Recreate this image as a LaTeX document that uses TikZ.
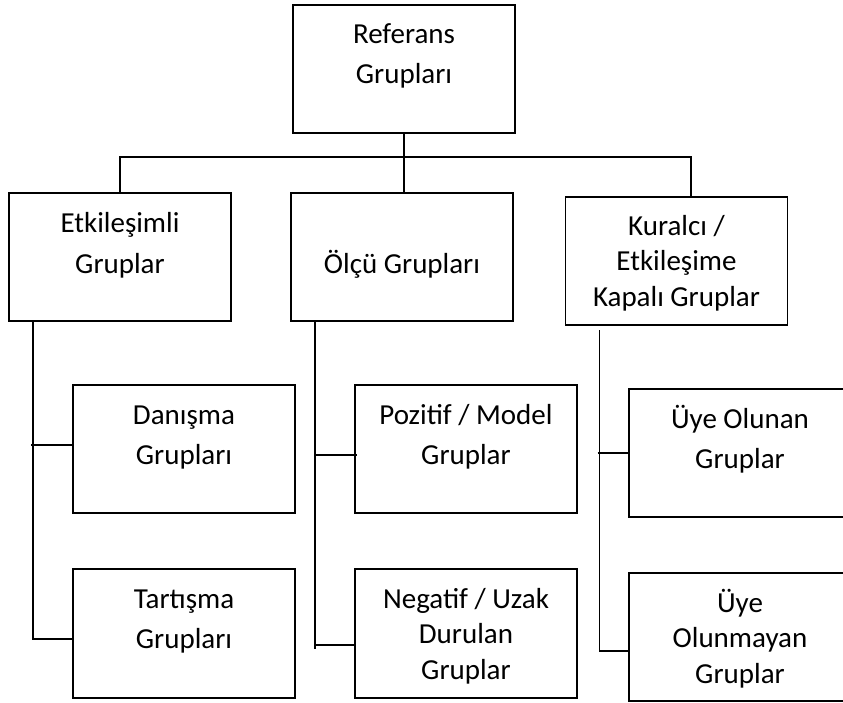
\documentclass[tikz,border=0pt]{standalone}
\usepackage{fontspec}
\setmainfont{Carlito}
\usetikzlibrary{calc}
\newcommand\mlines[2]{{\fontsize{29}{#1}\selectfont\begin{tabular}[t]{@{}c@{}}#2\end{tabular}}}
\begin{document}
\begin{tikzpicture}[x=1pt,y=-1pt,
  box/.style={draw, line width=1.8pt, minimum width=222pt, minimum height=128pt, inner sep=0pt, outer sep=0pt},
  conn/.style={line width=1.6pt},
  lbl/.style={anchor=base, inner sep=0pt, outer sep=0pt}]
\clip (0,0) rectangle (843,702);
\fill[white] (0,0) rectangle (843,702);
% boxes
\node[box] (top) at (404,69) {};
\node[box] (L1) at (120,257) {};
\node[box] (M1) at (402,257) {};
\node[box] (R1) at (676.5,261) {};
\node[box, minimum height=128pt] (Dan) at (184,449) {};
\node[box, minimum height=129pt] (Tar) at (184,633.5) {};
\node[box, minimum height=128pt] (Poz) at (466,449) {};
\node[box, minimum height=129pt] (Neg) at (466,633.5) {};
\node[box, minimum height=128pt] (UO) at (740,453) {};
\node[box, minimum height=128pt] (UN) at (740,637) {};
% texts
\node[lbl] (tTop) at (404,43) {\mlines{40}{Referans\\Grupları}};
\node[lbl] (tL1) at (120,232) {\mlines{41}{Etkileşimli\\Gruplar}};
\node[lbl] (tM1) at (402,273) {\mlines{36}{Ölçü Grupları}};
\node[lbl] (tR1) at (676.5,235) {\mlines{35.5}{Kuralcı /\\Etkileşime\\Kapalı Gruplar}};
\node[lbl] (tDan) at (184,424) {\mlines{40}{Danışma\\Grupları}};
\node[lbl] (tTar) at (184,608) {\mlines{40}{Tartışma\\Grupları}};
\node[lbl] (tPoz) at (466,424) {\mlines{40}{Pozitif / Model\\Gruplar}};
\node[lbl] (tNeg) at (466,608) {\mlines{35.5}{Negatif / Uzak\\Durulan\\Gruplar}};
\node[lbl] (tUO) at (740,428) {\mlines{40}{Üye Olunan\\Gruplar}};
\node[lbl] (tUN) at (740,612) {\mlines{35.5}{Üye\\Olunmayan\\Gruplar}};
% connectors, level 1
\coordinate (bj) at (403,157);
\draw[conn] (top.south) -- (top.south |- M1.north);
\draw[conn] (L1.north) |- (bj) -| ($(R1.north)+(14.5,0)$);
% left spine
\coordinate (Ls) at ($(L1.south west)+(24,0)$);
\draw[conn] (Ls) |- ($(Tar.west)+(0,5.5)$);
\draw[conn] ($(Ls |- Dan.west)+(-2,-4)$) -- ($(Dan.west)+(0,-4)$);
% middle spine
\coordinate (Ms) at ($(M1.south west)+(24,0)$);
\draw[conn] (Ms) -- ($(Ms |- Neg.west)+(0,15.5)$);
\draw[conn] ($(Ms |- Poz.west)+(0,6)$) -- ($(Poz.west)+(2,6)$);
\draw[conn] ($(Ms |- Neg.west)+(0,11.5)$) -- ($(Neg.west)+(0,11.5)$);
% right spine
\coordinate (Rs) at ($(R1.south west)+(34,5)$);
\draw[conn] (Rs) |- ($(UN.west)+(0,14)$);
\draw[conn] ($(Rs |- UO.west)+(-2,0)$) -- (UO.west);
\end{tikzpicture}
\end{document}
